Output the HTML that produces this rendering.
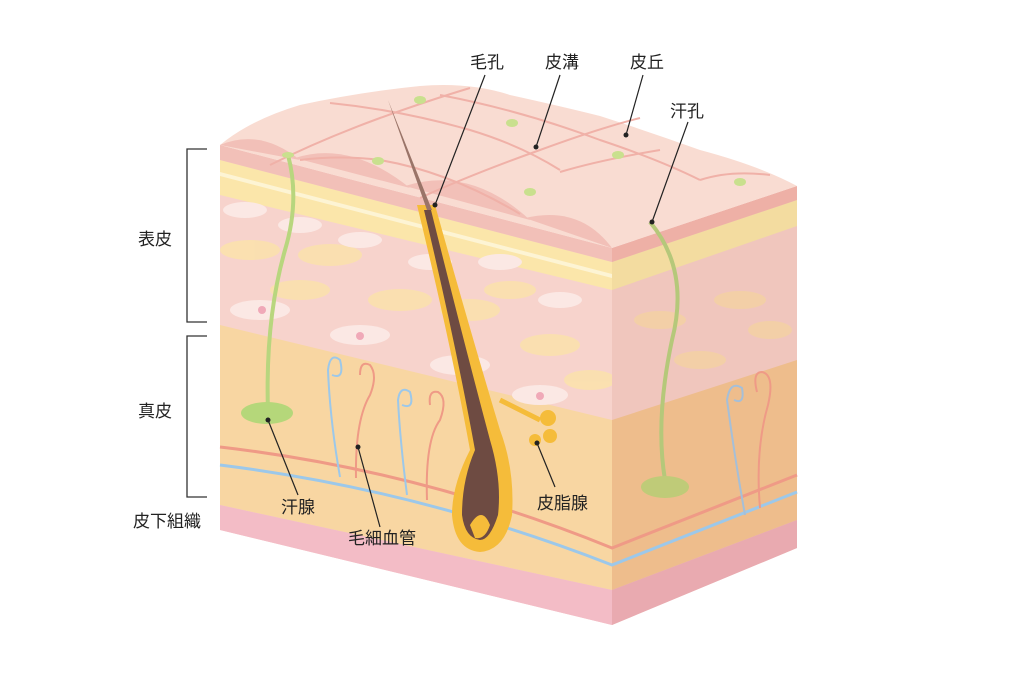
<!DOCTYPE html>
<html><head><meta charset="utf-8"><style>
body{margin:0;background:#fff;}
svg{display:block}
text{font-family:"Liberation Sans","Noto Sans CJK JP",sans-serif;font-size:17px;fill:#222;}
</style></head><body>
<svg width="1024" height="683" viewBox="0 0 1024 683" xmlns="http://www.w3.org/2000/svg">
<!-- front face layers -->
<polygon points="220,145 612,248 612,625 220,530" fill="#f7d3cc"/>
<polygon points="220,325 612,420 612,590 220,505" fill="#f8d6a2"/>
<polygon points="220,505 612,590 612,625 220,530" fill="#f3bcc6"/>
<polygon points="220,160 612,262 612,290 220,195" fill="#fbe6aa"/>
<polygon points="220,145 612,248 612,262 220,160" fill="#f2c0b8"/>
<polygon points="220,172 612,274 612,278 220,176" fill="#fdf4d4"/>
<!-- cells front -->
<g fill="#fbe1ad" opacity="0.9">
<ellipse cx="250" cy="250" rx="30" ry="10"/><ellipse cx="330" cy="255" rx="32" ry="11"/>
<ellipse cx="400" cy="300" rx="32" ry="11"/><ellipse cx="470" cy="310" rx="30" ry="11"/>
<ellipse cx="550" cy="345" rx="30" ry="11"/><ellipse cx="300" cy="290" rx="30" ry="10"/>
<ellipse cx="510" cy="290" rx="26" ry="9"/><ellipse cx="590" cy="380" rx="26" ry="10"/>
</g>
<g fill="#fbe8e4">
<ellipse cx="245" cy="210" rx="22" ry="8"/><ellipse cx="300" cy="225" rx="22" ry="8"/>
<ellipse cx="360" cy="240" rx="22" ry="8"/><ellipse cx="430" cy="262" rx="22" ry="8"/>
<ellipse cx="500" cy="262" rx="22" ry="8"/><ellipse cx="560" cy="300" rx="22" ry="8"/>
<ellipse cx="260" cy="310" rx="30" ry="10"/><ellipse cx="360" cy="335" rx="30" ry="10"/>
<ellipse cx="460" cy="365" rx="30" ry="10"/><ellipse cx="540" cy="395" rx="28" ry="10"/>
</g>
<g fill="#f0a9b8"><circle cx="262" cy="310" r="4"/><circle cx="360" cy="336" r="4"/><circle cx="462" cy="366" r="4"/><circle cx="540" cy="396" r="4"/></g>
<!-- side face -->
<polygon points="612,248 797,186 797,548 612,625" fill="#f0c6bd"/>
<polygon points="612,420 797,360 797,520 612,590" fill="#eebd8c"/>
<polygon points="612,590 797,520 797,548 612,625" fill="#e9aab0"/>
<polygon points="612,262 797,200 797,226 612,290" fill="#f3dca0"/>
<polygon points="612,248 797,186 797,200 612,262" fill="#eeb0a6"/>
<g fill="#f4d2a2" opacity="0.8"><ellipse cx="660" cy="320" rx="26" ry="9"/><ellipse cx="740" cy="300" rx="26" ry="9"/><ellipse cx="700" cy="360" rx="26" ry="9"/><ellipse cx="770" cy="330" rx="22" ry="9"/></g>
<!-- top surface -->
<path d="M220,145 Q250,120 300,105 Q360,92 420,86 Q470,82 510,95 Q560,106 600,116 Q650,132 700,150 Q760,166 797,186 L612,248 Z" fill="#f9dcd2"/>
<!-- scallop band at front edge -->
<g fill="#f2c0b8">
<path d="M220,145 Q260,128 300,160 Z"/>
<path d="M295,158 Q350,140 410,188 Z"/>
<path d="M405,186 Q470,165 530,220 Z"/>
<path d="M525,218 Q580,205 612,248 Z"/>
</g>
<g stroke="#f0b1a8" stroke-width="2" fill="none">
<path d="M270,165 Q320,140 380,118 Q430,100 470,88"/>
<path d="M420,198 Q470,175 540,150 Q600,128 640,118"/>
<path d="M300,160 Q340,155 380,160 Q450,172 520,214"/>
<path d="M330,103 Q400,110 470,130 Q520,145 560,170"/>
<path d="M440,95 Q520,110 600,140 Q660,160 700,180"/>
<path d="M560,172 Q600,160 660,150"/>
<path d="M700,180 Q730,170 770,175"/>
</g>
<g fill="#c9e08e"><ellipse cx="420" cy="100" rx="6" ry="4"/><ellipse cx="512" cy="123" rx="6" ry="4"/><ellipse cx="378" cy="161" rx="6" ry="4"/><ellipse cx="618" cy="155" rx="6" ry="4"/><ellipse cx="530" cy="192" rx="6" ry="4"/><ellipse cx="740" cy="182" rx="6" ry="4"/></g>
<!-- vessels -->
<path d="M220,447 Q420,470 612,548 L797,475" stroke="#ef9a86" stroke-width="3" fill="none"/>
<path d="M220,465 Q420,490 612,565 L797,492" stroke="#9cc8ea" stroke-width="3" fill="none"/>
<g fill="none" stroke-width="2">
<path d="M340,477 Q330,420 328,370 Q330,352 340,360 Q345,380 332,375" stroke="#9cc8ea"/>
<path d="M356,478 Q355,420 370,395 Q378,375 370,365 Q360,360 360,375" stroke="#ef9a86"/>
<path d="M407,495 Q400,440 398,400 Q400,385 410,392 Q415,410 402,405" stroke="#9cc8ea"/>
<path d="M427,500 Q425,440 440,420 Q448,398 438,392 Q428,390 430,405" stroke="#ef9a86"/>
<path d="M745,515 Q735,460 727,400 Q730,380 742,388 Q745,405 734,400" stroke="#a5bfd8"/>
<path d="M760,508 Q755,450 768,405 Q775,375 762,372 Q752,372 757,392" stroke="#ef9a86"/>
</g>
<!-- sweat glands -->
<path d="M288,155 Q300,200 285,250 Q265,320 268,412" stroke="#b8d67e" stroke-width="4" fill="none"/>
<ellipse cx="267" cy="413" rx="26" ry="11" fill="#b5d77a"/>
<ellipse cx="288" cy="155" rx="6" ry="3" fill="#c9e08e"/>
<path d="M650,222 Q690,270 672,340 Q655,420 665,480" stroke="#b5c87a" stroke-width="4" fill="none"/>
<ellipse cx="665" cy="487" rx="24" ry="11" fill="#bfcb78"/>
<!-- hair -->
<path d="M417,205 L435,205 Q470,330 500,430 Q515,470 512,515 Q505,550 480,552 Q455,550 452,515 Q452,485 470,450 Q450,340 417,205 Z" fill="#f5bc3a"/>
<path d="M424,210 L431,210 Q462,335 490,440 Q502,480 498,515 Q490,540 480,540 Q465,538 462,515 Q462,480 475,450 Q455,340 424,210 Z" fill="#6e4b42"/>
<path d="M470,525 Q482,505 490,525 Q485,540 475,538 Z" fill="#f5bc3a"/>
<path d="M388,100 L427,210 L432,210 Z" fill="#9a7468"/>
<path d="M500,400 Q520,410 540,420" stroke="#f5bc3a" stroke-width="5" fill="none"/>
<circle cx="548" cy="418" r="8" fill="#f5bc3a"/><circle cx="550" cy="436" r="7" fill="#f5bc3a"/><circle cx="535" cy="440" r="6" fill="#f5bc3a"/>
<!-- brackets -->
<g stroke="#333" stroke-width="1.3" fill="none">
<path d="M207,149 H187 V322 H207"/>
<path d="M207,336 H187 V497 H207"/>
</g>
<!-- leaders -->
<g stroke="#222" stroke-width="1.2">
<line x1="485" y1="75" x2="435" y2="205"/>
<line x1="560" y1="75" x2="536" y2="147"/>
<line x1="643" y1="75" x2="626" y2="135"/>
<line x1="688" y1="122" x2="652" y2="222"/>
<line x1="298" y1="495" x2="268" y2="420"/>
<line x1="380" y1="527" x2="358" y2="447"/>
<line x1="555" y1="487" x2="537" y2="443"/>
</g>
<g fill="#222"><circle cx="435" cy="205" r="2.5"/><circle cx="536" cy="147" r="2.5"/><circle cx="626" cy="135" r="2.5"/><circle cx="652" cy="222" r="2.5"/><circle cx="268" cy="420" r="2.5"/><circle cx="358" cy="447" r="2.5"/><circle cx="537" cy="443" r="2.5"/></g>
<!-- labels -->
<text x="470" y="68">毛孔</text>
<text x="545" y="68">皮溝</text>
<text x="630" y="68">皮丘</text>
<text x="670" y="117">汗孔</text>
<text x="138" y="245">表皮</text>
<text x="138" y="417">真皮</text>
<text x="133" y="527">皮下組織</text>
<text x="281" y="513">汗腺</text>
<text x="348" y="544">毛細血管</text>
<text x="537" y="509">皮脂腺</text>
</svg>
</body></html>
